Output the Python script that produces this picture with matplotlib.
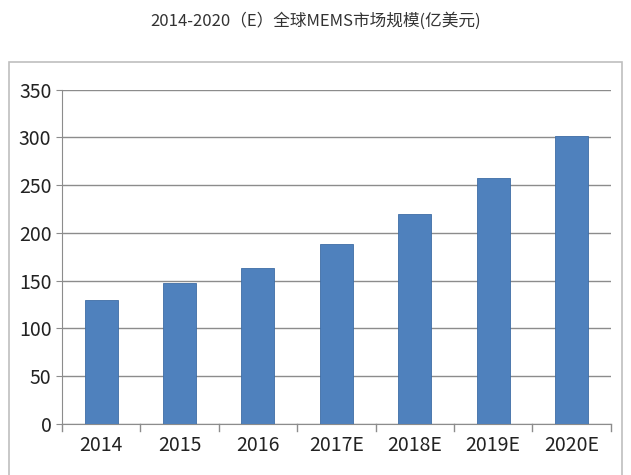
import matplotlib
matplotlib.use("Agg")
import matplotlib.pyplot as plt
from matplotlib.patches import Rectangle

plt.rcParams['font.family'] = ['Noto Sans CJK SC', 'DejaVu Sans']

categories = ["2014", "2015", "2016", "2017E", "2018E", "2019E", "2020E"]
values = [130, 147, 163, 188, 220, 258, 302]
yticks = [0, 50, 100, 150, 200, 250, 300, 350]

fig = plt.figure(figsize=(6.31, 4.75), dpi=100)
fig.patch.set_facecolor("white")
fig.patches.append(Rectangle((0.015, -0.01), 0.97, 0.88, transform=fig.transFigure,
                             fill=False, edgecolor="#bfbfbf", linewidth=1.2))
fig.text(0.5, 0.955, "2014-2020（E）全球MEMS市场规模(亿美元)", ha="center", va="center",
         fontsize=12, color="#333333")

ax = fig.add_axes([0.098, 0.108, 0.87, 0.703])
ax.bar(range(len(values)), values, width=0.42, color="#4f81bd", edgecolor="#3e6da6", linewidth=0.6, zorder=3)
ax.set_ylim(0, 350)
ax.set_xlim(-0.5, len(values) - 0.5)
ax.set_yticks(yticks)
ax.set_yticklabels([str(v) for v in yticks], fontsize=14, color="#222222")
ax.set_xticks(range(len(values)))
ax.set_xticklabels(categories, fontsize=14, color="#222222")
ax.grid(axis="y", color="#8c8c8c", linewidth=1.0, zorder=0)
for s in ["top", "right"]:
    ax.spines[s].set_visible(False)
ax.spines["left"].set_color("#8c8c8c")
ax.spines["bottom"].set_color("#8c8c8c")
ax.tick_params(axis="y", length=4, color="#8c8c8c")
ax.tick_params(axis="x", length=0, pad=8)
for i in range(len(values) + 1):
    ax.plot([i - 0.5, i - 0.5], [0, -8], color="#8c8c8c", lw=1, clip_on=False)

fig.savefig("out.png", dpi=100)
